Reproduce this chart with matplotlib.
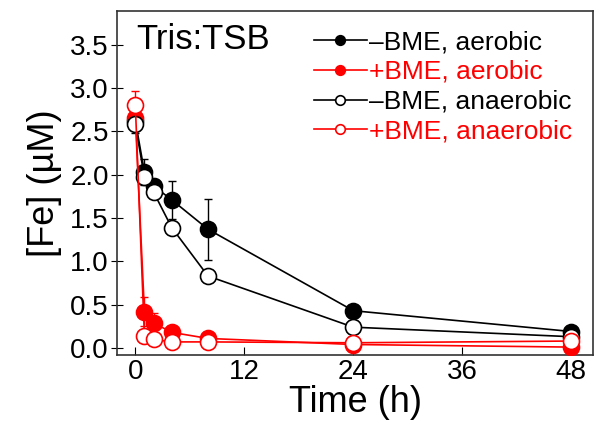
import matplotlib.pyplot as plt

plt.rcParams['font.family'] = ['Liberation Sans', 'DejaVu Sans']

# Datos
tiempo = [0, 1, 2, 4, 8, 24, 48]

neg_aer = [2.62, 2.03, 1.87, 1.71, 1.37, 0.43, 0.19]
neg_aer_err = [0.05, 0.15, 0.08, 0.22, 0.35, 0.02, 0.02]

pos_aer = [2.65, 0.42, 0.29, 0.18, 0.11, 0.04, 0.01]
pos_aer_err = [0.05, 0.17, 0.11, 0.03, 0.02, 0.01, 0.01]

neg_anaer = [2.58, 1.97, 1.80, 1.39, 0.83, 0.24, 0.13]
neg_anaer_err = [0.10, 0.08, 0.05, 0.05, 0.03, 0.02, 0.02]

pos_anaer = [2.80, 0.14, 0.10, 0.07, 0.07, 0.06, 0.08]
pos_anaer_err = [0.17, 0.03, 0.02, 0.01, 0.01, 0.01, 0.01]

series = [
    (neg_aer, neg_aer_err, 'black', 'black', '\u2013BME, aerobic'),
    (pos_aer, pos_aer_err, 'red', 'red', '+BME, aerobic'),
    (neg_anaer, neg_anaer_err, 'black', 'white', '\u2013BME, anaerobic'),
    (pos_anaer, pos_anaer_err, 'red', 'white', '+BME, anaerobic'),
]

fig = plt.figure(figsize=(6.04, 4.36), dpi=100)
ax = fig.add_axes([0.194, 0.186, 0.788, 0.789])

for y, err, col, face, lab in series:
    # barras de error primero, detrás de los marcadores
    ax.errorbar(tiempo, y, yerr=err, fmt='none', ecolor=col, elinewidth=1,
                capsize=3, capthick=1, zorder=2)
    ax.plot(tiempo, y, color=col, marker='o', markersize=11.5,
            markerfacecolor=face, markeredgecolor=col, markeredgewidth=1.2,
            linewidth=1.2, label=lab, zorder=3)

ax.set_xlim(-2, 50.4)
ax.set_ylim(-0.08, 3.89)
ax.set_xticks([0, 12, 24, 36, 48])
ax.set_yticks([0.0, 0.5, 1.0, 1.5, 2.0, 2.5, 3.0, 3.5])
ax.set_yticklabels(['0.0', '0.5', '1.0', '1.5', '2.0', '2.5', '3.0', '3.5'])
ax.tick_params(axis='x', direction='in', length=6, labelsize=20, pad=3)
ax.tick_params(axis='y', direction='inout', length=8, labelsize=20, pad=2)
for s in ax.spines.values():
    s.set_color('#333333')
    s.set_linewidth(1.2)

ax.set_xlabel('Time (h)', fontsize=26, labelpad=0)
ax.set_ylabel('[Fe] (\u00b5M)', fontsize=26, labelpad=6)

ax.text(0.04, 0.965, 'Tris:TSB', transform=ax.transAxes, fontsize=25,
        va='top', ha='left')

leg = ax.legend(loc='upper right', bbox_to_anchor=(0.99, 0.99), frameon=False,
                fontsize=19, markerscale=0.6, handlelength=2.0,
                handletextpad=0.1, labelspacing=0.22, borderaxespad=0.2)
for txt, (_, _, col, _, _) in zip(leg.get_texts(), series):
    txt.set_color(col)

plt.savefig('out.png', dpi=100)
